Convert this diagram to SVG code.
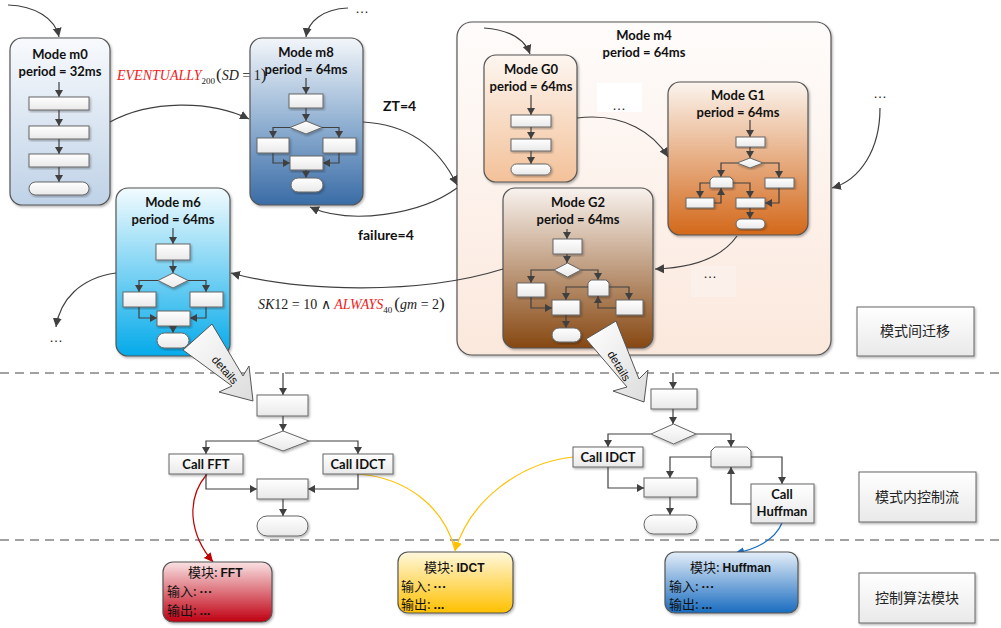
<svg xmlns="http://www.w3.org/2000/svg" width="1001" height="628" viewBox="0 0 1001 628">
<style>
.hd{font-family:Lato,"Liberation Sans",sans-serif;font-weight:bold;font-size:13px;fill:#111;text-anchor:middle}
.lb{font-family:Lato,"Liberation Sans",sans-serif;font-weight:bold;font-size:14px;fill:#111}
.bt{font-family:Lato,"Liberation Sans",sans-serif;font-weight:bold;font-size:13px;fill:#111;text-anchor:middle}
.cj{font-family:"Noto Sans CJK SC",sans-serif;font-size:13px;fill:#111}
.cjb{font-family:"Noto Sans CJK SC",sans-serif;font-size:14px;fill:#222;text-anchor:middle}
.ld{font-family:"Liberation Sans",sans-serif;font-weight:bold}
.mb{stroke:#555;stroke-width:1.2;filter:url(#sh)}
.ib{fill:url(#gBox);stroke:#666;stroke-width:1;filter:url(#sh)}
.fl{fill:none;stroke:#404040;stroke-width:1.2;marker-end:url(#as)}
.cn{fill:none;stroke:#404040;stroke-width:1.2;marker-end:url(#ah)}
.dot{font-family:"Liberation Sans",sans-serif;font-size:14px;fill:#222;text-anchor:middle}
.dash{stroke:#444;stroke-width:1.2;stroke-dasharray:9 6}
.det{fill:url(#gDet);stroke:#555;stroke-width:1}
.dtx{font-family:"Liberation Sans",sans-serif;font-size:11.5px;fill:#111;text-anchor:middle}
.mth{font-family:"Liberation Serif",serif;font-size:14px;fill:#222}
</style>
<defs>
<filter id="sh" x="-10%" y="-10%" width="130%" height="130%"><feDropShadow dx="1.2" dy="1.5" stdDeviation="0.8" flood-color="#000" flood-opacity="0.3"/></filter>
<marker id="ah" markerUnits="userSpaceOnUse" markerWidth="10" markerHeight="10" refX="9" refY="5" orient="auto"><path d="M0,0.5 L9,5 L0,9.5 z" fill="#404040"/></marker>
<marker id="as" markerUnits="userSpaceOnUse" markerWidth="8" markerHeight="8" refX="7" refY="4" orient="auto"><path d="M0,0 L7,4 L0,8 z" fill="#404040"/></marker>
<marker id="ar" markerUnits="userSpaceOnUse" markerWidth="10" markerHeight="10" refX="9" refY="5" orient="auto"><path d="M0,0.5 L9,5 L0,9.5 z" fill="#c00000"/></marker>
<marker id="ay" markerUnits="userSpaceOnUse" markerWidth="10" markerHeight="10" refX="9" refY="5" orient="auto"><path d="M0,0.5 L9,5 L0,9.5 z" fill="#ffc000"/></marker>
<marker id="ab" markerUnits="userSpaceOnUse" markerWidth="10" markerHeight="10" refX="9" refY="5" orient="auto"><path d="M0,0.5 L9,5 L0,9.5 z" fill="#1a6cc0"/></marker>
<linearGradient id="gBox" x1="0" y1="0" x2="0" y2="1"><stop offset="0" stop-color="#ffffff"/><stop offset="1" stop-color="#e9e9e9"/></linearGradient>
<linearGradient id="gDet" x1="0" y1="0" x2="1" y2="1"><stop offset="0" stop-color="#ffffff"/><stop offset="1" stop-color="#dcdcdc"/></linearGradient>
<linearGradient id="gM0" x1="0" y1="0" x2="0" y2="1"><stop offset="0" stop-color="#f8fafd"/><stop offset="1" stop-color="#bfd2e7"/></linearGradient>
<linearGradient id="gM8" x1="0" y1="0" x2="0" y2="1"><stop offset="0" stop-color="#f3f6fa"/><stop offset="0.5" stop-color="#93b2d3"/><stop offset="1" stop-color="#3a6ca6"/></linearGradient>
<linearGradient id="gM6" x1="0" y1="0" x2="0" y2="1"><stop offset="0" stop-color="#f2fbfe"/><stop offset="1" stop-color="#04aaea"/></linearGradient>
<linearGradient id="gM4" x1="0" y1="0" x2="0" y2="1"><stop offset="0" stop-color="#fefcfb"/><stop offset="1" stop-color="#fbe8dc"/></linearGradient>
<linearGradient id="gG0" x1="0" y1="0" x2="0" y2="1"><stop offset="0" stop-color="#fdf6f0"/><stop offset="1" stop-color="#f3c199"/></linearGradient>
<linearGradient id="gG1" x1="0" y1="0" x2="0" y2="1"><stop offset="0" stop-color="#fbf4ee"/><stop offset="1" stop-color="#d3681a"/></linearGradient>
<linearGradient id="gG2" x1="0" y1="0" x2="0" y2="1"><stop offset="0" stop-color="#f8f2ee"/><stop offset="1" stop-color="#874812"/></linearGradient>
<linearGradient id="gFFT" x1="0" y1="0" x2="0" y2="1"><stop offset="0" stop-color="#f9e2e4"/><stop offset="1" stop-color="#c00012"/></linearGradient>
<linearGradient id="gIDCT" x1="0" y1="0" x2="0" y2="1"><stop offset="0" stop-color="#fff8dc"/><stop offset="1" stop-color="#ffc000"/></linearGradient>
<linearGradient id="gHuf" x1="0" y1="0" x2="0" y2="1"><stop offset="0" stop-color="#e4eef8"/><stop offset="1" stop-color="#1a6cc0"/></linearGradient>
</defs>
<rect width="1001" height="628" fill="#ffffff"/>

<g id="separators">
<line class="dash" x1="0" y1="373" x2="1001" y2="373"/>
<line class="dash" x1="0" y1="540" x2="1001" y2="540"/>
</g>

<g id="mode-m0">
<rect class="mb" x="10" y="38" width="100" height="167" rx="12" fill="url(#gM0)"/>
<text class="hd" x="60" y="59">Mode m0</text>
<text class="hd" x="60" y="76">period = 32ms</text>
<line class="fl" x1="59" y1="82" x2="59" y2="97"/>
<rect class="ib" x="29" y="97" width="60" height="13"/>
<line class="fl" x1="59" y1="110" x2="59" y2="126"/>
<rect class="ib" x="29" y="126" width="60" height="13"/>
<line class="fl" x1="59" y1="139" x2="59" y2="154"/>
<rect class="ib" x="29" y="154" width="60" height="13"/>
<line class="fl" x1="59" y1="167" x2="59" y2="182"/>
<rect class="ib" x="29" y="182" width="60" height="13" rx="6.5"/>
</g>

<g id="mode-m8">
<rect class="mb" x="250" y="38" width="113" height="167" rx="12" fill="url(#gM8)"/>
<text class="hd" x="306" y="57">Mode m8</text>
<text class="hd" x="306" y="74">period = 64ms</text>
<line class="fl" x1="306" y1="78" x2="306" y2="94"/>
<rect class="ib" x="289" y="94" width="34" height="14"/>
<line class="fl" x1="306" y1="108" x2="306" y2="121"/>
<polygon class="ib" points="290,127.5 306,121 322,127.5 306,134"/>
<polyline class="fl" points="290,127.5 273,127.5 273,138"/>
<polyline class="fl" points="322,127.5 339,127.5 339,138"/>
<rect class="ib" x="257" y="138" width="32" height="15"/>
<rect class="ib" x="323" y="138" width="33" height="15"/>
<polyline class="fl" points="273,153 273,163 290,163"/>
<polyline class="fl" points="339,153 339,163 323,163"/>
<rect class="ib" x="290" y="156" width="33" height="14"/>
<line class="fl" x1="306" y1="170" x2="306" y2="178"/>
<rect class="ib" x="291" y="178" width="32" height="14" rx="7"/>
</g>

<g id="mode-m6">
<rect class="mb" x="116" y="188" width="114" height="168" rx="12" fill="url(#gM6)"/>
<text class="hd" x="173" y="207">Mode m6</text>
<text class="hd" x="173" y="224">period = 64ms</text>
<line class="fl" x1="173" y1="228" x2="173" y2="244"/>
<rect class="ib" x="156" y="244" width="34" height="16"/>
<line class="fl" x1="173" y1="260" x2="173" y2="273"/>
<polygon class="ib" points="158,280.5 173,273 188,280.5 173,288"/>
<polyline class="fl" points="158,280.5 139,280.5 139,292"/>
<polyline class="fl" points="188,280.5 206,280.5 206,292"/>
<rect class="ib" x="123" y="292" width="33" height="15"/>
<rect class="ib" x="190" y="292" width="33" height="15"/>
<polyline class="fl" points="139,307 139,318 157,318"/>
<polyline class="fl" points="206,307 206,318 190,318"/>
<rect class="ib" x="157" y="311" width="33" height="15"/>
<line class="fl" x1="173" y1="326" x2="173" y2="333"/>
<rect class="ib" x="157" y="333" width="32" height="15" rx="7.5"/>
</g>

<g id="mode-m4">
<rect class="mb" x="457" y="22" width="374" height="333" rx="15" fill="url(#gM4)"/>
<text class="hd" x="644" y="40">Mode m4</text>
<text class="hd" x="644" y="57">period = 64ms</text>
<rect x="597" y="83" width="45" height="29" fill="#ffffff"/>
<text class="dot" x="619" y="110">…</text>
<rect x="691" y="266" width="45" height="31" fill="#fcf1ea"/>
<text class="dot" x="710" y="278">…</text>
</g>

<g id="mode-G0">
<rect class="mb" x="484" y="55" width="93" height="127" rx="12" fill="url(#gG0)"/>
<text class="hd" x="531" y="74">Mode G0</text>
<text class="hd" x="531" y="91">period = 64ms</text>
<line class="fl" x1="531" y1="95" x2="531" y2="115"/>
<rect class="ib" x="511" y="115" width="40" height="12"/>
<line class="fl" x1="531" y1="127" x2="531" y2="139"/>
<rect class="ib" x="511" y="139" width="40" height="12"/>
<line class="fl" x1="531" y1="151" x2="531" y2="164"/>
<rect class="ib" x="511" y="164" width="40" height="11" rx="5.5"/>
</g>

<g id="mode-G1">
<rect class="mb" x="668" y="82" width="140" height="153" rx="12" fill="url(#gG1)"/>
<text class="hd" x="738" y="100">Mode G1</text>
<text class="hd" x="738" y="117">period = 64ms</text>
<line class="fl" x1="750" y1="120" x2="750" y2="137"/>
<rect class="ib" x="736" y="137" width="29" height="10"/>
<line class="fl" x1="750" y1="147" x2="750" y2="158"/>
<polygon class="ib" points="737,163 750,158 763,163 750,168"/>
<polyline class="fl" points="737,163 721,163 721,177"/>
<polyline class="fl" points="763,163 779,163 779,178"/>
<path class="ib" d="M713,177 L730,177 L733,180 L733,188 L710,188 L710,180 Z"/>
<rect class="ib" x="765" y="178" width="29" height="10"/>
<polyline class="fl" points="710,183 700,183 700,198"/>
<polyline class="fl" points="733,183 750,183 750,198"/>
<rect class="ib" x="686" y="198" width="28" height="10"/>
<rect class="ib" x="736" y="198" width="29" height="10"/>
<polyline class="fl" points="714,203 721,203 721,188"/>
<polyline class="fl" points="779,188 779,203 765,203"/>
<line class="fl" x1="750" y1="208" x2="750" y2="219"/>
<rect class="ib" x="736" y="219" width="29" height="10" rx="5"/>
</g>

<g id="mode-G2">
<rect class="mb" x="503" y="188" width="150" height="160" rx="12" fill="url(#gG2)"/>
<text class="hd" x="578" y="207">Mode G2</text>
<text class="hd" x="578" y="224">period = 64ms</text>
<line class="fl" x1="567" y1="229" x2="567" y2="239"/>
<rect class="ib" x="553" y="239" width="29" height="15"/>
<line class="fl" x1="567" y1="254" x2="567" y2="263"/>
<polygon class="ib" points="554,270 567.5,263 581,270 567.5,277"/>
<polyline class="fl" points="554,270 531,270 531,283"/>
<polyline class="fl" points="581,270 598,270 598,280"/>
<rect class="ib" x="517" y="283" width="28" height="14"/>
<path class="ib" d="M591,280 L606,280 L609,283 L609,296 L588,296 L588,283 Z"/>
<polyline class="fl" points="588,287 566,287 566,300"/>
<polyline class="fl" points="609,287 629,287 629,300"/>
<rect class="ib" x="552" y="300" width="28" height="15"/>
<rect class="ib" x="616" y="300" width="27" height="15"/>
<polyline class="fl" points="616,308 598,308 598,296"/>
<polyline class="fl" points="531,297 531,308 552,308"/>
<line class="fl" x1="566" y1="315" x2="566" y2="328"/>
<rect class="ib" x="552" y="328" width="29" height="14" rx="7"/>
</g>

<g id="connectors">
<path class="cn" d="M8,5 C35,6 55,18 59,37"/>
<path class="cn" d="M348,8 C322,9 308,22 306,37"/>
<text class="dot" x="362" y="13" font-size="11">…</text>
<path class="cn" d="M110,122 C150,100 210,100 249,119"/>
<path class="cn" d="M363,122 C420,125 445,160 457,185"/>
<path class="cn" d="M457,188 C420,215 350,225 310,207"/>
<path class="cn" d="M484,28 C510,30 525,40 530,54"/>
<path class="cn" d="M577,118 C625,112 655,135 668,157"/>
<text class="dot" x="880" y="98">…</text>
<path class="cn" d="M880,108 C880,150 860,180 832,188"/>
<path class="cn" d="M737,236 C720,260 690,268 655,269"/>
<path class="cn" d="M503,269 C420,295 300,292 231,273"/>
<path class="cn" d="M116,273 C80,278 60,300 56,327"/>
<text class="dot" x="56" y="342">…</text>
<path fill="none" stroke="#c00000" stroke-width="1.2" marker-end="url(#ar)" d="M207,474 C185,500 190,535 213,562"/>
<path fill="none" stroke="#ffc000" stroke-width="1.2" d="M358,474 C410,478 445,510 455,550"/>
<path fill="none" stroke="#ffc000" stroke-width="1.2" marker-end="url(#ay)" d="M573,457 C520,463 470,500 455,551"/>
<path fill="none" stroke="#1a6cc0" stroke-width="1.2" marker-end="url(#ab)" d="M782,523 C775,540 755,550 735,553"/>
</g>

<g id="labels">
<text class="mth" x="117" y="80"><tspan fill="#ee2222" font-style="italic">EVENTUALLY</tspan><tspan font-size="9" dy="4">200</tspan><tspan dy="-4" font-size="17" dx="1">(</tspan><tspan font-style="italic">SD</tspan> = 1<tspan font-size="17">)</tspan></text>
<text class="lb" x="383" y="111">ZT=4</text>
<text class="lb" x="358" y="240">failure=4</text>
<text class="mth" x="258" y="309"><tspan font-style="italic">SK</tspan>12 = 10 ∧ <tspan fill="#ee2222" font-style="italic">ALWAYS</tspan><tspan font-size="9" dy="4">40</tspan><tspan dy="-4" font-size="17" dx="2">(</tspan><tspan font-style="italic">gm</tspan> = 2<tspan font-size="17">)</tspan></text>
</g>

<g id="details-left">
<polygon class="det" points="212,324 243,376 249,366 253,401 219,392 232,386 183,350"/>
<text class="dtx" transform="translate(225,370) rotate(48)" y="4">details</text>
</g>
<g id="details-right">
<polygon class="det" points="616,321 639,379 648,370 644,402 613,391 627,387 586,339"/>
<text class="dtx" transform="translate(619,366) rotate(58.5)" y="4">details</text>
</g>

<g id="flow-left">
<line class="fl" x1="283" y1="373" x2="283" y2="395"/>
<rect class="ib" x="257" y="395" width="51" height="21"/>
<line class="fl" x1="283" y1="416" x2="283" y2="431"/>
<polygon class="ib" points="257,441 283,431 309,441 283,451"/>
<polyline class="fl" points="257,441 206,441 206,454"/>
<polyline class="fl" points="309,441 358,441 358,454"/>
<rect class="ib" x="169" y="454" width="74" height="20"/>
<text class="bt" x="206" y="469">Call FFT</text>
<rect class="ib" x="323" y="454" width="70" height="20"/>
<text class="bt" x="358" y="469">Call IDCT</text>
<polyline class="fl" points="206,474 206,489 257,489"/>
<polyline class="fl" points="358,474 358,489 308,489"/>
<rect class="ib" x="257" y="479" width="51" height="20"/>
<line class="fl" x1="283" y1="499" x2="283" y2="516"/>
<rect class="ib" x="257" y="516" width="51" height="20" rx="10"/>
</g>

<g id="flow-right">
<line class="fl" x1="673" y1="373" x2="673" y2="389"/>
<rect class="ib" x="651" y="389" width="46" height="20"/>
<line class="fl" x1="673" y1="409" x2="673" y2="424"/>
<polygon class="ib" points="651,434 673.5,424 696,434 673.5,444"/>
<polyline class="fl" points="651,434 608,434 608,447"/>
<polyline class="fl" points="696,434 731,434 731,447"/>
<rect class="ib" x="573" y="447" width="70" height="20"/>
<text class="bt" x="608" y="462">Call IDCT</text>
<path class="ib" d="M715,447 L747,447 L751,451 L751,467 L711,467 L711,451 Z"/>
<polyline class="fl" points="711,457 670,457 670,478"/>
<polyline class="fl" points="751,457 782,457 782,484"/>
<rect class="ib" x="644" y="478" width="53" height="19"/>
<rect class="ib" x="751" y="484" width="63" height="39"/>
<text class="bt" x="782" y="499">Call</text>
<text class="bt" x="782" y="516">Huffman</text>
<polyline class="fl" points="751,504 731,504 731,467"/>
<polyline class="fl" points="608,467 608,488 644,488"/>
<line class="fl" x1="670" y1="497" x2="670" y2="515"/>
<rect class="ib" x="644" y="515" width="53" height="19" rx="9.5"/>
</g>

<g id="module-fft">
<rect class="mb" x="163" y="562" width="109" height="60" rx="10" fill="url(#gFFT)"/>
<text class="cj" x="188" y="577">模块: <tspan class="ld" font-size="12">FFT</tspan></text>
<text class="cj" x="167" y="596">输入: <tspan class="ld">···</tspan></text>
<text class="cj" x="167" y="615">输出: <tspan class="ld">...</tspan></text>
</g>
<g id="module-idct">
<rect class="mb" x="398" y="552" width="115" height="61" rx="10" fill="url(#gIDCT)"/>
<text class="cj" x="424" y="572">模块: <tspan class="ld" font-size="12">IDCT</tspan></text>
<text class="cj" x="401" y="591">输入: <tspan class="ld">···</tspan></text>
<text class="cj" x="401" y="609">输出: <tspan class="ld">...</tspan></text>
</g>
<g id="module-huffman">
<rect class="mb" x="665" y="552" width="133" height="61" rx="10" fill="url(#gHuf)"/>
<text class="cj" x="690" y="572">模块: <tspan class="ld" font-size="12">Huffman</tspan></text>
<text class="cj" x="669" y="591">输入: <tspan class="ld">···</tspan></text>
<text class="cj" x="669" y="609">输出: <tspan class="ld">...</tspan></text>
</g>

<g id="layer-labels">
<rect x="857" y="307" width="117" height="49" fill="url(#gBox)" stroke="#666" filter="url(#sh)"/>
<text class="cjb" x="915" y="336">模式间迁移</text>
<rect x="859" y="472" width="117" height="50" fill="url(#gBox)" stroke="#666" filter="url(#sh)"/>
<text class="cjb" x="917" y="502">模式内控制流</text>
<rect x="859" y="573" width="116" height="50" fill="url(#gBox)" stroke="#666" filter="url(#sh)"/>
<text class="cjb" x="917" y="603">控制算法模块</text>
</g>
</svg>
